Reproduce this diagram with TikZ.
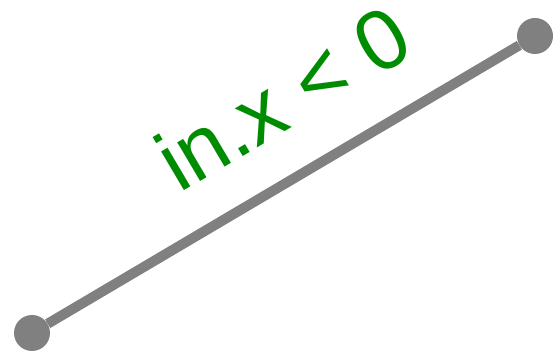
\documentclass[tikz,border=0pt]{standalone}
\usepackage{fontspec}
\setmainfont{Liberation Sans}
\colorlet{lcol}{gray}
\colorlet{tcol}{green!55!black}
\tikzstyle{wire}=[lcol,line width=10pt]
\tikzstyle{endpt}=[circle,fill=lcol,inner sep=0pt,minimum size=36pt]
\begin{document}
\begin{tikzpicture}[x=1pt,y=1pt]
  \useasboundingbox (0,0) rectangle (553,355);
  % ENDS
  \node[endpt] (a) at (32,22) {};
  \node[endpt] (b) at (535,319) {};
  % EDGE
  \draw[wire] (a) -- (b) node[pos=0.58,sloped,anchor=base,yshift=45pt,tcol,inner sep=0pt,
    font=\fontsize{85}{90}\selectfont] (lbl) {in.x < 0};
\end{tikzpicture}
\end{document}
